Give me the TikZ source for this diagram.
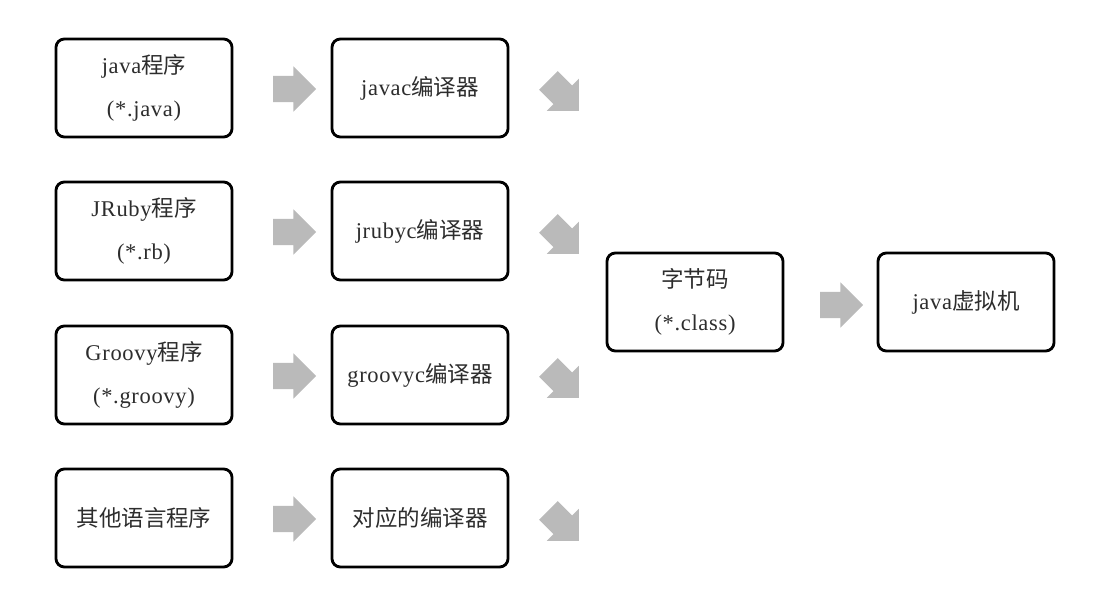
\documentclass[tikz,border=0pt]{standalone}
\usepackage{fontspec}
\setmainfont{Liberation Serif}[LetterSpace=3]
\newfontfamily\cjk{Noto Sans CJK SC}
\usetikzlibrary{shapes.arrows, positioning}
\definecolor{arrowgray}{RGB}{186,186,186}
\definecolor{ink}{RGB}{45,45,45}
\newcommand{\zh}[1]{{\cjk #1}}

\begin{document}
\begin{tikzpicture}[x=0.025cm, y=-0.025cm,
    stagebox/.style={draw=black, line width=2pt, rounded corners=6pt, fill=white,
      text=ink, minimum width=4.4cm, minimum height=2.45cm, align=center,
      font=\fontsize{16pt}{31pt}\selectfont},
    flowarrow/.style={single arrow, fill=arrowgray, draw=none, inner xsep=0pt,
      inner ysep=0.32cm, minimum height=1.075cm, single arrow head extend=0.24cm}]
  \useasboundingbox (0,0) rectangle (1114,598);
  % source programs
  \node[stagebox] (javasrc) at (144, 88) {java\zh{程序}\\(*.java)};
  \node[stagebox] (rubysrc) at (144, 231) {JRuby\zh{程序}\\(*.rb)};
  \node[stagebox] (groovysrc) at (144, 375) {Groovy\zh{程序}\\(*.groovy)};
  \node[stagebox] (othersrc) at (144, 518) {\zh{其他语言程序}};
  % compilers
  \node[stagebox] (javac) at (420, 88) {javac\zh{编译器}};
  \node[stagebox] (jrubyc) at (420, 231) {jrubyc\zh{编译器}};
  \node[stagebox] (groovyc) at (420, 375) {groovyc\zh{编译器}};
  \node[stagebox] (otherc) at (420, 518) {\zh{对应的编译器}};
  % bytecode and vm
  \node[stagebox] (bytecode) at (695, 302) {\zh{字节码}\\(*.class)};
  \node[stagebox] (jvm) at (966, 302) {java\zh{虚拟机}};
  % block arrows
  \node[flowarrow] (javaarr) at (288, 89) {};
  \node[flowarrow] (rubyarr) at (288, 232) {};
  \node[flowarrow] (groovyarr) at (288, 376) {};
  \node[flowarrow] (otherarr) at (288, 519) {};
  \node[flowarrow, rotate=-45] (javaout) at (559, 91) {};
  \node[flowarrow, rotate=-45] (rubyout) at (559, 234) {};
  \node[flowarrow, rotate=-45] (groovyout) at (559, 378) {};
  \node[flowarrow, rotate=-45] (otherout) at (559, 521) {};
  \node[flowarrow] (vmarr) at (835, 305) {};
\end{tikzpicture}
\end{document}
